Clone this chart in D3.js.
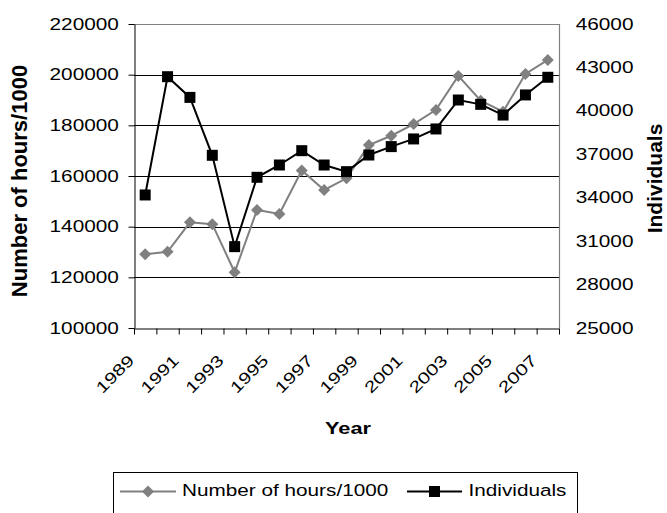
<!DOCTYPE html>
<html>
<head>
<meta charset="utf-8">
<script src="https://cdn.jsdelivr.net/npm/d3@7"></script>
<style>
  html, body { margin: 0; padding: 0; background: #fff; }
  svg { display: block; }
  text { font-family: "Liberation Sans", Arial, sans-serif; fill: #000; }
</style>
</head>
<body>
<svg id="chart" width="667" height="513"></svg>
<script>
// Annual series, 1989–2007
const years = [1989, 1990, 1991, 1992, 1993, 1994, 1995, 1996, 1997, 1998,
               1999, 2000, 2001, 2002, 2003, 2004, 2005, 2006, 2007];
const hours = [129100, 130100, 141700, 141000, 122000, 146600, 145000, 162200, 154500, 159100,
               172200, 175900, 180500, 186100, 199500, 189700, 185400, 200300, 205800];
const individuals = [34190, 42360, 40930, 36930, 30620, 35410, 36260, 37250, 36260, 35800,
                     36950, 37530, 38060, 38750, 40750, 40450, 39710, 41100, 42320];

const leftTicks = [100000, 120000, 140000, 160000, 180000, 200000, 220000];
const rightTicks = [25000, 28000, 31000, 34000, 37000, 40000, 43000, 46000];
const yearLabels = [1989, 1991, 1993, 1995, 1997, 1999, 2001, 2003, 2005, 2007];

const seriesNames = ["Number of hours/1000", "Individuals"];
const axisTitles = { x: "Year", left: "Number of hours/1000", right: "Individuals" };

const GRAY = "#808080";
const WIDE = 1.3; // horizontal glyph stretch used for all horizontal labels

const svg = d3.select("#chart");
const L = 134, R = 559, T = 24, B = 328;

const x = d3.scaleBand().domain(years).range([L, R]).padding(0);
const xIdx = d3.scaleLinear().domain([0, years.length]).range([L, R]);
const yL = d3.scaleLinear().domain([100000, 220000]).range([B, T]);
const yR = d3.scaleLinear().domain([25000, 46000]).range([B, T]);
const cx = d => x(d) + x.bandwidth() / 2;

// horizontal gridlines
svg.append("g")
  .selectAll("line")
  .data(leftTicks.slice(1, -1))
  .join("line")
  .attr("x1", L).attr("x2", R)
  .attr("y1", d => Math.round(yL(d)) + 0.5).attr("y2", d => Math.round(yL(d)) + 0.5)
  .attr("stroke", "#000").attr("stroke-width", 1);

// plot border top and right
svg.append("path")
  .attr("d", `M${L},${Math.round(T) + 0.5}H${R + 0.5}V${B}`)
  .attr("fill", "none").attr("stroke", GRAY).attr("stroke-width", 1.2);

// left axis
const gL = svg.append("g").attr("transform", `translate(${L + 0.5},0)`)
  .call(d3.axisLeft(yL).tickValues(leftTicks).tickSize(6).tickSizeOuter(0).tickPadding(6)
        .tickFormat(d3.format("d")));
gL.select(".domain").attr("stroke", "#000");
gL.selectAll(".tick line").attr("stroke", "#000");
gL.selectAll(".tick text").attr("font-size", 16)
  .attr("transform", `scale(${WIDE},1)`);
gL.attr("font-size", null).attr("font-family", null);

// right axis
const gR = svg.append("g").attr("transform", `translate(${R},0)`)
  .call(d3.axisRight(yR).tickValues(rightTicks).tickSize(0).tickSizeOuter(0).tickPadding(12.8)
        .tickFormat(d3.format("d")));
gR.select(".domain").remove();
gR.selectAll(".tick text").attr("font-size", 16).attr("transform", `scale(${WIDE},1)`);
gR.attr("font-size", null).attr("font-family", null);

// bottom axis: tick marks at category boundaries
const gB = svg.append("g").attr("transform", `translate(0,${B + 0.5})`)
  .call(d3.axisBottom(xIdx).tickValues(d3.range(years.length + 1)).tickSize(6)
        .tickSizeOuter(0).tickFormat(""));
gB.select(".domain").attr("stroke", "#000");
gB.selectAll(".tick line").attr("stroke", "#000");

// bottom axis: rotated year labels
const gY = svg.append("g").attr("transform", `translate(0,${B})`)
  .call(d3.axisBottom(x).tickValues(yearLabels).tickSize(0).tickFormat(String));
gY.select(".domain").remove();
gY.attr("font-size", null).attr("font-family", null);
gY.selectAll(".tick text")
  .attr("y", 0).attr("dy", null)
  .attr("font-size", 16)
  .attr("text-anchor", "end")
  .attr("transform", `translate(-10,33.5) rotate(-45) scale(${WIDE},1)`);

// axis titles
svg.append("text")
  .attr("transform", `translate(348,434) scale(1.28,1)`)
  .attr("text-anchor", "middle").attr("font-size", 17).attr("font-weight", "bold")
  .text(axisTitles.x);
svg.append("text")
  .attr("transform", "translate(27,181) rotate(-90)")
  .attr("text-anchor", "middle").attr("font-size", 22).attr("font-weight", "bold")
  .text(axisTitles.left);
svg.append("text")
  .attr("transform", "translate(662,178.5) rotate(-90)")
  .attr("text-anchor", "middle").attr("font-size", 21).attr("font-weight", "bold")
  .text(axisTitles.right);

// series
const diamond = d3.symbol().type(d3.symbolSquare).size(72);
const square = d3.symbol().type(d3.symbolSquare).size(121);

const lineH = d3.line().x((d, i) => cx(years[i])).y(d => yL(d));
const lineI = d3.line().x((d, i) => cx(years[i])).y(d => yR(d));

svg.append("path").datum(hours).attr("d", lineH)
  .attr("fill", "none").attr("stroke", GRAY).attr("stroke-width", 2);
svg.append("g").selectAll("path").data(hours).join("path")
  .attr("d", diamond)
  .attr("transform", (d, i) => `translate(${cx(years[i])},${yL(d)}) rotate(45)`)
  .attr("fill", GRAY);

svg.append("path").datum(individuals).attr("d", lineI)
  .attr("fill", "none").attr("stroke", "#000").attr("stroke-width", 2);
svg.append("g").selectAll("path").data(individuals).join("path")
  .attr("d", square)
  .attr("transform", (d, i) => `translate(${cx(years[i])},${yR(d)})`)
  .attr("fill", "#000");

// legend
const lg = svg.append("g");
lg.append("rect").attr("x", 113.5).attr("y", 472.5).attr("width", 464).attr("height", 60)
  .attr("fill", "#fff").attr("stroke", "#000").attr("stroke-width", 1);
const items = [
  { name: seriesNames[0], x0: 120, x1: 176, tx: 182, color: GRAY, sym: diamond, rot: 45 },
  { name: seriesNames[1], x0: 407, x1: 462, tx: 468.5, color: "#000", sym: square, rot: 0 }
];
items.forEach(it => {
  lg.append("line").attr("x1", it.x0).attr("x2", it.x1).attr("y1", 491.5).attr("y2", 491.5)
    .attr("stroke", it.color).attr("stroke-width", 2);
  lg.append("path").attr("d", it.sym)
    .attr("transform", `translate(${(it.x0 + it.x1) / 2},491.5) rotate(${it.rot})`)
    .attr("fill", it.color);
  lg.append("text").attr("transform", `translate(${it.tx},496) scale(1.22,1)`)
    .attr("font-size", 17).text(it.name);
});
</script>
</body>
</html>
